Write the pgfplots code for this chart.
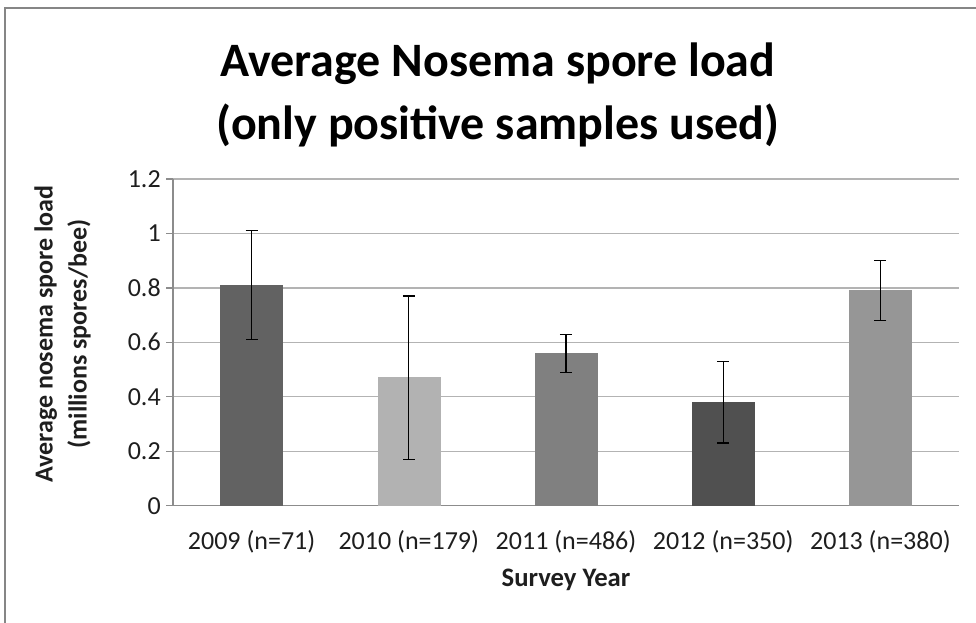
\documentclass[border=0pt]{standalone}
\usepackage{pgfplots}
\pgfplotsset{compat=1.18}
\usepackage{fontspec}
\setmainfont{Carlito}
\definecolor{gridc}{HTML}{B3B3B3}
\definecolor{axisc}{HTML}{8C8C8C}
\definecolor{framec}{HTML}{868686}
\definecolor{txt}{HTML}{1E1E1E}
\definecolor{cA}{HTML}{626262}
\definecolor{cB}{HTML}{B2B2B2}
\definecolor{cC}{HTML}{808080}
\definecolor{cD}{HTML}{505050}
\definecolor{cE}{HTML}{969696}
\pgfplotsset{myerr/.style={
  error bars/y dir=both, error bars/y explicit,
  error bars/error bar style={black, line width=0.9pt},
  error bars/error mark options={rotate=90, mark size=4.5pt, black, line width=0.9pt}}}
\begin{document}
\begin{tikzpicture}[x=1pt,y=1pt]
\path[use as bounding box] (0,0) rectangle (732,467.25);
\draw[color=framec, line width=0.8pt] (3.75,0) -- (3.75,461.25) -- (732,461.25);
\begin{axis}[
  at={(129.75pt,88pt)}, anchor=south west,
  scale only axis, width=589.5pt, height=245pt,
  xmin=-0.5, xmax=4.5, ymin=0, ymax=1.2,
  axis x line*=bottom, axis y line*=left,
  axis line style={axisc, line width=1pt},
  xtick={0,1,2,3,4},
  xticklabels={2009 (n=71),2010 (n=179),2011 (n=486),2012 (n=350),2013 (n=380)},
  ytick={0,0.2,0.4,0.6,0.8,1,1.2},
  yticklabels={0,0.2,0.4,0.6,0.8,1,1.2},
  xtick style={draw=none},
  ytick style={axisc, line width=1pt},
  tick align=outside, major tick length=5pt,
  ymajorgrids, grid style={gridc, line width=1pt},
  tick label style={font=\fontsize{19.5}{23}\selectfont, text=txt},
  xticklabel style={anchor=base, yshift=-28pt},
  yticklabel style={anchor=east, inner sep=0pt, xshift=-4pt},
  ybar, bar width=0.394, bar shift=0pt,
  clip=false,
]
\addplot[fill=cA, draw=cA, myerr] coordinates {(0,0.81) +- (0,0.20)};
\addplot[fill=cB, draw=cB, myerr] coordinates {(1,0.47) +- (0,0.30)};
\addplot[fill=cC, draw=cC, myerr] coordinates {(2,0.56) +- (0,0.07)};
\addplot[fill=cD, draw=cD, myerr] coordinates {(3,0.38) +- (0,0.15)};
\addplot[fill=cE, draw=cE, myerr] coordinates {(4,0.79) +- (0,0.11)};
\end{axis}
\node[font=\bfseries\fontsize{36}{43}\selectfont, anchor=base] at (373.5,409.5) {Average Nosema spore load};
\node[font=\bfseries\fontsize{36}{43}\selectfont, anchor=base] at (373.5,362.25) {(only positive samples used)};
\node[font=\bfseries\fontsize{20}{24}\selectfont, text=txt] at (424.5,32.25) {Survey Year};
\node[font=\bfseries\fontsize{19.5}{25.5}\selectfont, text=txt, rotate=90, align=center] at (47,216.75) {Average nosema spore load\\(millions spores/bee)};
\end{tikzpicture}
\end{document}
